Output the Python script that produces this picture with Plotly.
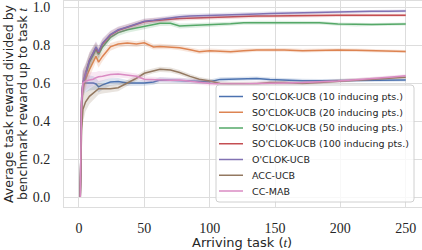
import plotly.graph_objects as go

t = [1, 2, 3, 5, 8, 11, 13, 15, 18, 24, 30, 37, 44, 50, 57, 62, 70, 77, 85, 92,
     100, 108, 116, 126, 136, 146, 157, 171, 184, 198, 212, 224, 237, 250]

so10 = [0, 0.52, 0.60, 0.60, 0.60, 0.60, 0.595, 0.58, 0.59, 0.605, 0.608, 0.60, 0.60, 0.60,
        0.605, 0.616, 0.614, 0.612, 0.61, 0.608, 0.607, 0.619, 0.62, 0.622, 0.624, 0.619,
        0.615, 0.612, 0.612, 0.613, 0.615, 0.616, 0.616, 0.616]
so20 = [0, 0.48, 0.57, 0.62, 0.67, 0.71, 0.74, 0.71, 0.74, 0.79, 0.805, 0.81, 0.805, 0.812,
        0.79, 0.792, 0.79, 0.785, 0.775, 0.765, 0.77, 0.768, 0.765, 0.77, 0.774, 0.774,
        0.774, 0.77, 0.772, 0.774, 0.772, 0.77, 0.768, 0.766]
so50 = [0, 0.49, 0.58, 0.64, 0.71, 0.75, 0.775, 0.75, 0.79, 0.84, 0.865, 0.88, 0.89, 0.90,
        0.908, 0.914, 0.914, 0.90, 0.902, 0.904, 0.905, 0.908, 0.912, 0.917, 0.917, 0.917,
        0.917, 0.917, 0.917, 0.91, 0.907, 0.908, 0.909, 0.91]
so100 = [0, 0.50, 0.60, 0.65, 0.72, 0.76, 0.785, 0.76, 0.805, 0.852, 0.877, 0.893, 0.908,
         0.922, 0.928, 0.932, 0.936, 0.94, 0.942, 0.944, 0.946, 0.948, 0.949, 0.951, 0.952,
         0.953, 0.953, 0.954, 0.955, 0.956, 0.957, 0.957, 0.958, 0.957]
oclok = [0, 0.50, 0.60, 0.65, 0.72, 0.76, 0.79, 0.765, 0.81, 0.855, 0.88, 0.895, 0.91, 0.925,
         0.93, 0.935, 0.942, 0.949, 0.952, 0.953, 0.955, 0.956, 0.958, 0.961, 0.963, 0.966,
         0.968, 0.97, 0.972, 0.974, 0.976, 0.977, 0.978, 0.979]
acc = [0, 0.35, 0.46, 0.50, 0.53, 0.547, 0.56, 0.57, 0.57, 0.57, 0.575, 0.60, 0.625, 0.651,
       0.665, 0.672, 0.668, 0.655, 0.635, 0.62, 0.61, 0.598, 0.595, 0.594, 0.596, 0.602,
       0.602, 0.598, 0.603, 0.612, 0.617, 0.621, 0.626, 0.63]
ccmab = [0, 0.50, 0.60, 0.61, 0.616, 0.62, 0.628, 0.633, 0.635, 0.645, 0.647, 0.64, 0.635,
         0.62, 0.617, 0.616, 0.615, 0.616, 0.61, 0.605, 0.598, 0.596, 0.594, 0.595, 0.598,
         0.598, 0.60, 0.602, 0.605, 0.61, 0.617, 0.622, 0.63, 0.638]

band = [0, 0.06, 0.07, 0.05, 0.04, 0.035, 0.03, 0.03, 0.025, 0.02, 0.018, 0.016, 0.015,
        0.015, 0.014, 0.014, 0.013, 0.013, 0.012, 0.012, 0.012, 0.011, 0.011, 0.011, 0.01,
        0.01, 0.01, 0.01, 0.009, 0.009, 0.009, 0.008, 0.008, 0.008]

names = ["SO'CLOK-UCB (10 inducing pts.)", "SO'CLOK-UCB (20 inducing pts.)",
         "SO'CLOK-UCB (50 inducing pts.)", "SO'CLOK-UCB (100 inducing pts.)",
         "O'CLOK-UCB", "ACC-UCB", "CC-MAB"]
series = [so10, so20, so50, so100, oclok, acc, ccmab]
colors = ["#4C72B0", "#DD8452", "#55A868", "#C44E52", "#8172B3", "#937860", "#DA8BC3"]

xticks = [0, 50, 100, 150, 200, 250]
yticks = [0, 0.2, 0.4, 0.6, 0.8, 1.0]


def rgba(h, a):
    h = h.lstrip("#")
    return "rgba(%d,%d,%d,%s)" % (int(h[0:2], 16), int(h[2:4], 16), int(h[4:6], 16), a)


# pixel geometry of the plot area
W, H = 422, 250
L, R, T, B = 64, 0, 1, 43
PW, PH = W - L - R, H - T - B


def px(x):
    return (x - L) / PW


def py(y):
    return (H - B - y) / PH


fig = go.Figure()
for name, ys, c in zip(names, series, colors):
    lo = [y - b for y, b in zip(ys, band)]
    hi = [y + b for y, b in zip(ys, band)]
    fig.add_trace(go.Scatter(x=t, y=lo, mode="lines", line=dict(width=0, color=c),
                             showlegend=False, hoverinfo="skip"))
    fig.add_trace(go.Scatter(x=t, y=hi, mode="lines", line=dict(width=0, color=c),
                             fill="tonexty", fillcolor=rgba(c, 0.2),
                             showlegend=False, hoverinfo="skip"))
    fig.add_trace(go.Scatter(x=t, y=ys, mode="lines", name=name, showlegend=False,
                             line=dict(width=1.5, color=c)))

serif = "Liberation Serif"
sans = "DejaVu Sans"
txt = "#262626"

shapes = []
annotations = []

# legend box (rounded)
x0, x1, y0, y1, r = px(216), px(414), py(85), py(202), 3
rx, ry = r / PW, r / PH
path = (f"M {x0+rx},{y0} L {x1-rx},{y0} Q {x1},{y0} {x1},{y0-ry} "
        f"L {x1},{y1+ry} Q {x1},{y1} {x1-rx},{y1} L {x0+rx},{y1} "
        f"Q {x0},{y1} {x0},{y1+ry} L {x0},{y0-ry} Q {x0},{y0} {x0+rx},{y0} Z")
shapes.append(dict(type="path", path=path, xref="paper", yref="paper",
                   fillcolor="rgba(255,255,255,0.8)", line=dict(color="#d0d0d0", width=1),
                   layer="above"))
for i, (name, c) in enumerate(zip(names, colors)):
    yc = 96.5 + 15.75 * i
    shapes.append(dict(type="line", xref="paper", yref="paper",
                       x0=px(219), x1=px(243), y0=py(yc), y1=py(yc),
                       line=dict(color=c, width=1.5), layer="above"))
    annotations.append(dict(text=name, xref="paper", yref="paper", x=px(250), y=py(yc),
                            xanchor="left", yanchor="middle", showarrow=False,
                            font=dict(family=sans, size=9.5, color=txt)))

# axis titles
annotations.append(dict(text="Arriving task (<i style='font-family:Liberation Serif'>t</i>)",
                        xref="paper", yref="paper", x=px(242), y=py(242.5),
                        xanchor="center", yanchor="middle", showarrow=False,
                        font=dict(family=sans, size=13, color=txt)))
annotations.append(dict(text="Average task reward divided by",
                        xref="paper", yref="paper", x=px(8), y=py(104), textangle=-90,
                        xanchor="center", yanchor="middle", showarrow=False,
                        font=dict(family=sans, size=12.5, color=txt)))
annotations.append(dict(text="benchmark reward up to task "
                             "<i style='font-family:Liberation Serif'>t</i>",
                        xref="paper", yref="paper", x=px(22), y=py(104), textangle=-90,
                        xanchor="center", yanchor="middle", showarrow=False,
                        font=dict(family=sans, size=12.5, color=txt)))

fig.update_layout(
    width=W, height=H,
    margin=dict(l=L, r=R, t=T, b=B),
    paper_bgcolor="white", plot_bgcolor="white",
    font=dict(family=sans, size=12, color=txt),
    showlegend=False,
    shapes=shapes, annotations=annotations,
    xaxis=dict(range=[-11.45, 262.45], tickvals=xticks,
               ticktext=[str(v) for v in xticks],
               showgrid=True, gridcolor="#dddddd", gridwidth=1,
               showline=True, linecolor="#dddddd", linewidth=1, mirror=True,
               zeroline=False, ticks="", ticklabelstandoff=8, ticklabeloverflow="allow",
               tickfont=dict(family=serif, size=14, color=txt)),
    yaxis=dict(range=[-0.0526, 1.0316], tickvals=yticks,
               ticktext=["%.1f" % v for v in yticks],
               showgrid=True, gridcolor="#dddddd", gridwidth=1,
               showline=True, linecolor="#dddddd", linewidth=1, mirror=True,
               zeroline=False, ticks="", ticklabelstandoff=10, ticklabeloverflow="allow",
               tickfont=dict(family=serif, size=14, color=txt)),
)

fig.write_html("out.html", config={"displayModeBar": False},
               post_script="document.body.style.margin='0';document.body.style.padding='0';")
